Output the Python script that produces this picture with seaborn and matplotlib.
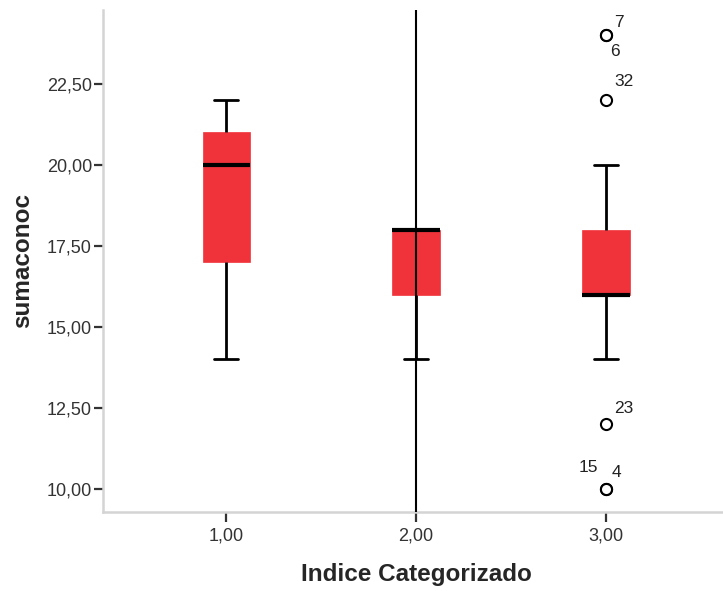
import pandas as pd
import seaborn as sns
import numpy as np
import matplotlib.pyplot as plt

# values
grupo1 = [14, 17, 17, 20, 21, 21, 22]
grupo2 = [14, 16, 16, 18, 18, 18, 18]
grupo3 = [10, 10, 12, 14, 16, 16, 16, 16, 16, 16, 17, 18, 18, 18, 20, 22, 24, 24]
categorias = ["1,00", "2,00", "3,00"]

# outlier case numbers in group 3
casos_valor = [24, 24, 22, 12, 10, 10]
casos_id = ["7", "6", "32", "23", "15", "4"]
casos_offset = [(5.8, 9.4), (2.9, -11.5), (5.8, 13.7), (5.8, 11.5), (-19.4, 15.8), (4.3, 12.2)]

y_ticks = [10, 12.5, 15, 17.5, 20, 22.5]

rows = []
for cat, vals in zip(categorias, [grupo1, grupo2, grupo3]):
    for v in vals:
        rows.append({"Indice Categorizado": cat, "sumaconoc": v})
df = pd.DataFrame(rows)

sns.set_style("white")
plt.rcParams['font.family'] = ['Liberation Sans', 'DejaVu Sans']

fig = plt.figure(figsize=(7.23, 5.91), dpi=100)
ax = fig.add_axes([0.1425, 0.1337, 0.866, 0.8494])

rojo = "#f0333b"
sns.boxplot(data=df, x="Indice Categorizado", y="sumaconoc", order=categorias,
            color=rojo, saturation=1, width=0.25, whis=1.5, linecolor="black",
            linewidth=2, ax=ax,
            boxprops=dict(edgecolor=rojo, linewidth=0.5),
            medianprops=dict(color="black", linewidth=3),
            whiskerprops=dict(color="black", linewidth=2),
            capprops=dict(color="black", linewidth=2),
            flierprops=dict(marker="o", markersize=8, markerfacecolor="white",
                            markeredgecolor="black", markeredgewidth=1.5))

ax.set_xlim(-0.65, 2.65)
ax.set_ylim(9.29, 24.78)

# SPSS draws a line through the whole height for group 2
ax.vlines(1, *ax.get_ylim(), color="black", linewidth=1.5, zorder=5)

for v, lab, off in zip(casos_valor, casos_id, casos_offset):
    ax.annotate(lab, (2, v), xytext=off, textcoords="offset points",
                fontsize=12.5, color="#222222", ha="left", va="center")

ax.set_yticks(y_ticks)
ax.set_yticklabels([f"{t:.2f}".replace(".", ",") for t in y_ticks], fontsize=13, color="#333333")
ax.set_xticks(range(3))
ax.set_xticklabels(categorias, fontsize=13, color="#333333")
ax.tick_params(axis="both", which="both", width=1.6, color="#333333",
               direction="out", left=True, bottom=True)
ax.tick_params(axis="x", length=7.5, pad=4)
ax.tick_params(axis="y", length=6.5, pad=1.5)

for s in ["top", "right"]:
    ax.spines[s].set_visible(False)
for s in ["left", "bottom"]:
    ax.spines[s].set_color("#d4d4d4")
    ax.spines[s].set_linewidth(1.8)

ax.set_xlabel("Indice Categorizado", fontsize=17.5, fontweight="bold", labelpad=13)
ax.set_ylabel("sumaconoc", fontsize=17.5, fontweight="bold", labelpad=9)

fig.savefig("out.png", dpi=100)
